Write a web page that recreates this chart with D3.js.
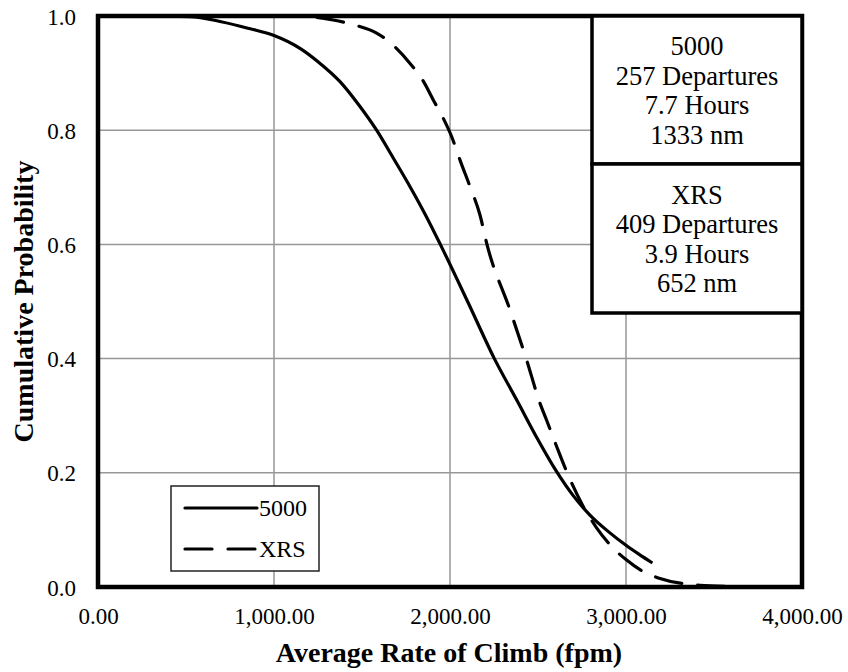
<!DOCTYPE html>
<html>
<head>
<meta charset="utf-8">
<script src="https://cdn.jsdelivr.net/npm/d3@7"></script>
<style>
  html, body { margin: 0; padding: 0; background: #fff; }
  svg { display: block; }
  svg text { font-family: "Liberation Serif", "Times New Roman", Times, serif !important; fill: #000; }
</style>
</head>
<body>
<svg id="chart" width="848" height="672"></svg>
<script>
// ---- data ----
const xTicks = [0, 1000, 2000, 3000, 4000];
const yTicks = [0, 0.2, 0.4, 0.6, 0.8, 1.0];

const rate5000 = [0, 300, 520, 700, 860, 1000, 1150, 1250, 1375, 1480, 1583, 1680, 1773, 1860, 1945, 2100, 2252, 2380, 2500, 2606, 2700, 2795, 2900, 3000, 3075, 3150];
const prob5000 = [1.0, 1.0, 0.999, 0.99, 0.978, 0.966, 0.943, 0.92, 0.885, 0.845, 0.8, 0.75, 0.701, 0.652, 0.6, 0.5, 0.4, 0.327, 0.258, 0.202, 0.16, 0.126, 0.097, 0.073, 0.057, 0.042];

const rateXRS = [1000, 1186, 1336, 1460, 1583, 1680, 1773, 1850, 1905, 1960, 2009, 2060, 2114, 2170, 2210, 2341, 2436, 2511, 2549, 2606, 2663, 2757, 2830, 2909, 3000, 3098, 3193, 3345, 3420, 3600, 3760];
const probXRS = [1.0, 0.999, 0.993, 0.984, 0.97, 0.948, 0.917, 0.885, 0.853, 0.822, 0.789, 0.745, 0.701, 0.652, 0.6, 0.485, 0.397, 0.322, 0.292, 0.246, 0.202, 0.141, 0.105, 0.074, 0.048, 0.027, 0.015, 0.005, 0.003, 0.001, 0.0];

const seriesNames = ["5000", "XRS"];
const infoLines5000 = ["5000", "257 Departures", "7.7 Hours", "1333 nm"];
const infoLinesXRS = ["XRS", "409 Departures", "3.9 Hours", "652 nm"];

const xTitle = "Average Rate of Climb (fpm)";
const yTitle = "Cumulative Probability";

// ---- layout ----
const SERIF = '"Liberation Serif", "Times New Roman", Times, serif';
const L = 98, R = 802, T = 16, B = 587;
const svg = d3.select("#chart");

const x = d3.scaleLinear().domain([0, 4000]).range([L, R]);
const y = d3.scaleLinear().domain([0, 1]).range([B, T]);

// gridlines
const grid = svg.append("g");
grid.selectAll("line.v").data(xTicks.slice(1, -1)).join("line")
  .attr("x1", d => x(d)).attr("x2", d => x(d))
  .attr("y1", T).attr("y2", B)
  .attr("stroke", "#979797").attr("stroke-width", 1.5);
grid.selectAll("line.h").data(yTicks.slice(1, -1)).join("line")
  .attr("x1", L).attr("x2", R)
  .attr("y1", d => y(d)).attr("y2", d => y(d))
  .attr("stroke", "#979797").attr("stroke-width", 1.5);

// curves
const line = d3.line().x(d => x(d[0])).y(d => y(d[1])).curve(d3.curveMonotoneX);
const d5000 = rate5000.map((r, i) => [r, prob5000[i]]);
const dXRS = rateXRS.map((r, i) => [r, probXRS[i]]);

svg.append("path").datum(d5000).attr("d", line)
  .attr("fill", "none").attr("stroke", "#000").attr("stroke-width", 3.2)
  .attr("stroke-linejoin", "round");
svg.append("path").datum(dXRS).attr("d", line)
  .attr("fill", "none").attr("stroke", "#000").attr("stroke-width", 3.2)
  .attr("stroke-dasharray", "27 16").attr("stroke-linecap", "round");

// frame
svg.append("rect").attr("x", L).attr("y", T).attr("width", R - L).attr("height", B - T)
  .attr("fill", "none").attr("stroke", "#000").attr("stroke-width", 4.5);

// axes (labels only)
const xAxis = d3.axisBottom(x).tickValues(xTicks).tickSize(0).tickPadding(0)
  .tickFormat(d3.format(",.2f"));
const gx = svg.append("g").attr("transform", `translate(0,${B})`).call(xAxis);
gx.select(".domain").remove();
gx.attr("font-family", SERIF).attr("font-size", 23);
gx.selectAll("text").style("font-family", SERIF).style("font-size", "23px")
  .attr("fill", "#000").attr("y", 37).attr("dy", 0);

const yAxis = d3.axisLeft(y).tickValues(yTicks).tickSize(0).tickPadding(0)
  .tickFormat(d3.format(".1f"));
const gy = svg.append("g").attr("transform", `translate(${L},0)`).call(yAxis);
gy.select(".domain").remove();
gy.attr("font-family", SERIF).attr("font-size", 23);
gy.selectAll("text").style("font-family", SERIF).style("font-size", "23px")
  .attr("fill", "#000").attr("x", -22).attr("dy", "0.35em");

// axis titles
svg.append("text").attr("x", (L + R) / 2 - 1).attr("y", 662)
  .attr("text-anchor", "middle").style("font-family", SERIF).style("font-weight", "bold").style("font-size", "28px")
  .text(xTitle);
svg.append("text").attr("transform", `translate(33,${(T + B) / 2}) rotate(-90)`)
  .attr("text-anchor", "middle").style("font-family", SERIF).style("font-weight", "bold").style("font-size", "28px")
  .text(yTitle);

// info boxes
const boxL = 592, boxMid = 164, boxB = 313;
const info = svg.append("g");
info.append("rect").attr("x", boxL).attr("y", T).attr("width", R - boxL).attr("height", boxMid - T)
  .attr("fill", "#fff").attr("stroke", "#000").attr("stroke-width", 3.5);
info.append("rect").attr("x", boxL).attr("y", boxMid).attr("width", R - boxL).attr("height", boxB - boxMid)
  .attr("fill", "#fff").attr("stroke", "#000").attr("stroke-width", 3.5);
const cx = (boxL + R) / 2;
info.selectAll("text.a").data(infoLines5000).join("text")
  .attr("class", "a")
  .attr("x", cx).attr("y", (d, i) => 55 + i * 29.5)
  .attr("text-anchor", "middle").style("font-family", SERIF).style("font-size", "26.5px").text(d => d);
info.selectAll("text.b").data(infoLinesXRS).join("text")
  .attr("class", "b")
  .attr("x", cx).attr("y", (d, i) => 203.5 + i * 29.5)
  .attr("text-anchor", "middle").style("font-family", SERIF).style("font-size", "26.5px").text(d => d);

// legend
const lg = svg.append("g");
lg.append("rect").attr("x", 171).attr("y", 486).attr("width", 148).attr("height", 85)
  .attr("fill", "#fff").attr("stroke", "#222").attr("stroke-width", 1.5);
const legY = [508, 549];
seriesNames.forEach((name, i) => {
  lg.append("line").attr("x1", 185).attr("x2", 257).attr("y1", legY[i]).attr("y2", legY[i])
    .attr("stroke", "#000").attr("stroke-width", 3.2)
    .attr("stroke-linecap", "round")
    .attr("stroke-dasharray", i === 1 ? "27 16" : null);
  lg.append("text").attr("x", 259).attr("y", legY[i]).attr("dy", "0.35em")
    .style("font-family", SERIF).style("font-size", "24px").text(name);
});
</script>
</body>
</html>
